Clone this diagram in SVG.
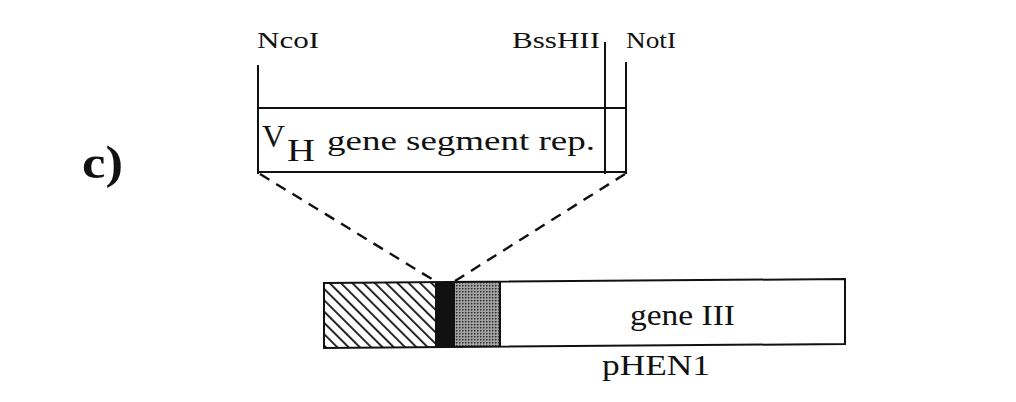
<svg xmlns="http://www.w3.org/2000/svg" width="1016" height="402" viewBox="0 0 1016 402">
<style>
.t{font-family:"Liberation Serif","DejaVu Serif",serif;fill:#111;}
.ln{stroke:#111;stroke-width:2;fill:none;}
.dash{stroke:#111;stroke-width:2.4;fill:none;stroke-dasharray:11,8;}
</style>
<defs>
<pattern id="hatch" patternUnits="userSpaceOnUse" width="8" height="8" patternTransform="rotate(-45)">
<rect width="8" height="8" fill="#fff"/>
<line x1="0" y1="0" x2="0" y2="8" stroke="#111" stroke-width="3.6"/>
</pattern>
<pattern id="dots" patternUnits="userSpaceOnUse" width="3" height="3">
<rect width="3" height="3" fill="#999"/>
<rect width="1.5" height="1.5" fill="#333"/>
<rect x="1.5" y="1.5" width="1" height="1" fill="#ccc"/>
</pattern>
</defs>
<rect width="1016" height="402" fill="#fff"/>
<text id="label-c" class="t" x="82" y="178" font-size="46" font-weight="bold" textLength="41" lengthAdjust="spacingAndGlyphs">c)</text>
<g id="insert">
<text class="t" x="257" y="48" font-size="24" textLength="62" lengthAdjust="spacingAndGlyphs">NcoI</text>
<text class="t" x="512" y="48" font-size="24" textLength="88" lengthAdjust="spacingAndGlyphs">BssHII</text>
<text class="t" x="626" y="48" font-size="24" textLength="50" lengthAdjust="spacingAndGlyphs">NotI</text>
<line class="ln" x1="258" y1="65" x2="258" y2="174"/>
<line class="ln" x1="605" y1="42" x2="605" y2="174"/>
<line class="ln" x1="626" y1="62" x2="626" y2="174"/>
<line class="ln" x1="258" y1="108" x2="626" y2="108"/>
<line class="ln" x1="258" y1="172" x2="626" y2="172"/>
<text class="t" x="262" y="147" font-size="32" textLength="23" lengthAdjust="spacingAndGlyphs">V</text>
<text class="t" x="287" y="161" font-size="32" textLength="28" lengthAdjust="spacingAndGlyphs">H</text>
<text class="t" x="327" y="150" font-size="28" textLength="268" lengthAdjust="spacingAndGlyphs">gene segment rep.</text>
</g>
<g id="connectors">
<line class="dash" x1="260" y1="174" x2="435" y2="281"/>
<line class="dash" x1="625" y1="174" x2="455" y2="281"/>
</g>
<g id="pHEN1">
<rect x="324" y="282" width="111" height="65" fill="url(#hatch)"/>
<rect x="435" y="282" width="20" height="65" fill="#111"/>
<rect x="455" y="282" width="45" height="65" fill="url(#dots)"/>
<rect x="500" y="280" width="345" height="66" fill="#fff"/>
<path class="ln" d="M324 283 L845 279 L845 344 L324 348 Z"/>
<line class="ln" x1="500" y1="281" x2="500" y2="347"/>
<text class="t" x="630" y="325" font-size="30" textLength="105" lengthAdjust="spacingAndGlyphs">gene III</text>
<text class="t" x="602" y="375" font-size="30" textLength="108" lengthAdjust="spacingAndGlyphs">pHEN1</text>
</g>
</svg>
